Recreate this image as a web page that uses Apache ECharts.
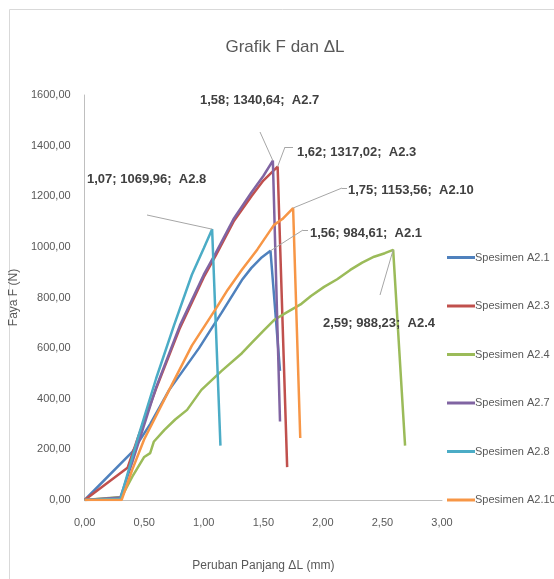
<!DOCTYPE html>
<html>
<head>
<meta charset="utf-8">
<script src="https://cdn.jsdelivr.net/npm/echarts@6/dist/echarts.min.js"></script>
<style>
  html, body { margin: 0; padding: 0; background: #fff; }
  #main { width: 554px; height: 579px; }
</style>
</head>
<body>
<div id="main"></div>
<script>
// data dibaca dari grafik F vs delta L
var a21 = [[0,0],[0.40,190],[0.55,300],[0.71,435],[0.96,600],[1.15,740],[1.32,869],[1.40,917],[1.48,956],[1.56,984.61],[1.64,510]];
var a23 = [[0,0],[0.36,127],[0.45,250],[0.60,440],[0.80,680],[1.00,880],[1.10,965],[1.25,1100],[1.40,1200],[1.50,1262],[1.62,1317.02],[1.70,130]];
var a24 = [[0,0],[0.31,12],[0.40,92],[0.50,170],[0.55,185],[0.58,230],[0.67,277],[0.76,318],[0.86,356],[0.98,435],[1.15,510],[1.32,580],[1.40,620],[1.50,668],[1.59,711],[1.70,742],[1.82,775],[1.90,806],[2.01,842],[2.12,872],[2.23,909],[2.33,938],[2.43,961],[2.52,975],[2.59,988.23],[2.69,215]];
var a27 = [[0,0],[0.30,10],[0.40,150],[0.60,445],[0.80,690],[1.00,890],[1.10,975],[1.25,1110],[1.40,1215],[1.50,1280],[1.58,1340.64],[1.64,310]];
var a28 = [[0,0],[0.30,5],[0.45,250],[0.60,480],[0.75,690],[0.90,890],[1.00,995],[1.07,1069.96],[1.14,215]];
var a210 = [[0,0],[0.31,0],[0.40,120],[0.50,240],[0.71,435],[0.90,610],[1.11,762],[1.20,830],[1.32,910],[1.45,990],[1.59,1087],[1.66,1110],[1.75,1153.56],[1.81,245]];

var names = ['Spesimen A2.1','Spesimen A2.3','Spesimen A2.4','Spesimen A2.7','Spesimen A2.8','Spesimen A2.10'];
var tags = ['A2.1','A2.3','A2.4','A2.7','A2.8','A2.10'];
var colors = ['#4F81BD','#C0504D','#9BBB59','#8064A2','#4BACC6','#F79646'];
var allData = [a21, a23, a24, a27, a28, a210];
// letak label puncak dan ujung garis penunjuk (px)
var labelPos = [[310,233],[297,152],[323,323],[200,100],[87,179],[348,190]];
var leaderEnd = [[303,230,308],[285,147,293],[380,295,null],[260,132,null],[147,215,null],[342,188,347]];

var font = "'Liberation Sans', Arial, sans-serif";

function koma(v) {
    return v.toFixed(2).replace('.', ',');
}

function peakIndex(d) {
    var k = 0;
    for (var i = 0; i < d.length; i++) {
        if (d[i][1] > d[k][1]) k = i;
    }
    return k;
}

var series = [];
for (var s = 0; s < allData.length; s++) {
    var d = allData[s];
    var pk = peakIndex(d);
    var rows = d.map(function (p, i) {
        if (i !== pk) return p;
        return {
            value: p,
            label: { show: true }
        };
    });
    var le = leaderEnd[s];
    var lines = [[{ coord: d[pk] }, { x: le[0], y: le[1] }]];
    if (le[2] !== null) {
        lines.push([{ x: le[0], y: le[1] }, { x: le[2], y: le[1] }]);
    }
    (function (s) {
        series.push({
            name: names[s],
            type: 'line',
            data: rows,
            symbol: 'circle',
            symbolSize: 0,
            showSymbol: true,
            silent: true,
            z: 3,
            lineStyle: { width: 2.5, color: colors[s] },
            itemStyle: { color: colors[s] },
            label: {
                show: false,
                fontFamily: font,
                fontWeight: 'bold',
                fontSize: 13,
                color: '#404040',
                formatter: function (p) {
                    return koma(p.value[0]) + '; ' + koma(p.value[1]) + ';  ' + tags[s];
                }
            },
            labelLayout: {
                x: labelPos[s][0],
                y: labelPos[s][1],
                align: 'left',
                verticalAlign: 'middle'
            },
            markLine: {
                silent: true,
                symbol: ['none', 'none'],
                label: { show: false },
                lineStyle: { color: '#a6a6a6', width: 1, type: 'solid' },
                emphasis: { disabled: true },
                data: lines
            },
            emphasis: { disabled: true }
        });
    })(s);
}

var myChart = echarts.init(document.getElementById('main'));
var option = {
    animation: false,
    color: colors,
    title: {
        text: 'Grafik F dan \u0394L',
        left: 280,
        textAlign: 'center',
        top: 34,
        textStyle: { fontFamily: font, fontSize: 17, fontWeight: 'normal', color: '#595959' }
    },
    legend: {
        orient: 'vertical',
        left: 442,
        top: 247,
        icon: 'rect',
        itemWidth: 28,
        itemHeight: 3,
        itemGap: 37.5,
        textStyle: { fontFamily: font, fontSize: 11, color: '#595959', padding: [0, 0, 0, -5] },
        data: names
    },
    grid: { left: 82, right: 112, top: 95, bottom: 79, containLabel: false },
    xAxis: {
        type: 'value',
        min: 0,
        max: 3,
        interval: 0.5,
        name: 'Peruban Panjang \u0394L (mm)',
        nameLocation: 'middle',
        nameGap: 60,
        nameTextStyle: { fontFamily: font, fontSize: 12, color: '#595959' },
        axisLine: { show: true, lineStyle: { color: '#bfbfbf', width: 1 } },
        axisTick: { show: false },
        splitLine: { show: false },
        axisLabel: { fontFamily: font, fontSize: 11, color: '#595959', margin: 17, formatter: koma }
    },
    yAxis: {
        type: 'value',
        min: 0,
        max: 1600,
        interval: 200,
        name: 'Faya F (N)',
        nameLocation: 'middle',
        nameGap: 56,
        nameTextStyle: { fontFamily: font, fontSize: 12, color: '#595959' },
        axisLine: { show: true, lineStyle: { color: '#bfbfbf', width: 1 } },
        axisTick: { show: false },
        splitLine: { show: false },
        axisLabel: { fontFamily: font, fontSize: 11, color: '#595959', margin: 14, formatter: koma }
    },
    graphic: [{
        type: 'rect',
        left: 7,
        top: 7,
        shape: { width: 600, height: 600 },
        style: { fill: 'none', stroke: '#d9d9d9', lineWidth: 1 },
        silent: true
    }],
    series: series
};
myChart.setOption(option);
</script>
</body>
</html>
